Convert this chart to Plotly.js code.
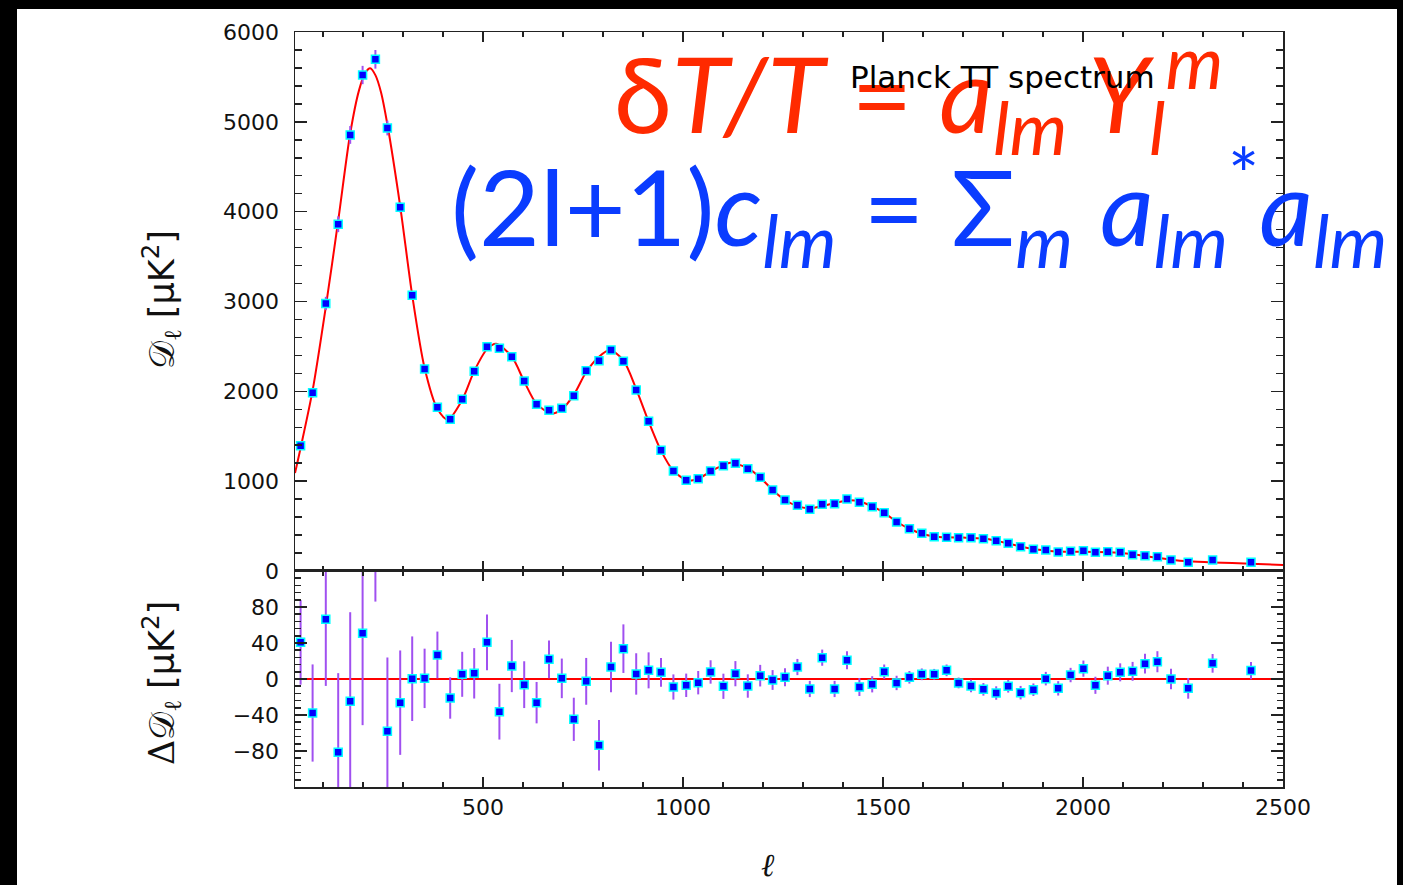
<!DOCTYPE html>
<html>
<head>
<meta charset="utf-8">
<script src="https://cdn.plot.ly/plotly-3.0.1.min.js"></script>
<style>
html,body{margin:0;padding:0;background:#000;width:1403px;height:885px;overflow:hidden;}
#plot{position:absolute;left:17px;top:9px;width:1380px;height:876px;background:#fff;}
</style>
</head>
<body>
<div id="plot"></div>
<script>
// Binned multipoles
const ell = [44,74,107,138,168,199,231,261,293,323,354,386,418,448,478,510,541,572,603,634,665,697,727,758,790,820,851,883,914,945,976,1008,1038,1069,1101,1131,1162,1193,1224,1255,1286,1317,1348,1379,1410,1441,1473,1503,1534,1566,1597,1628,1659,1689,1720,1751,1783,1813,1844,1876,1907,1938,1969,2001,2031,2062,2093,2124,2155,2186,2220,2263,2324,2420];
// D_ell values (muK^2)
const dell = [1395,1985,2978,3860,4854,5521,5696,4931,4049,3069,2249,1822,1689,1911,2223,2497,2479,2386,2115,1856,1789,1811,1951,2230,2341,2460,2334,2015,1666,1344,1114,1010,1027,1113,1172,1199,1139,1043,902,790,733,687,742,749,801,765,716,649,545,471,420,382,376,370,371,360,337,308,271,242,234,212,219,226,208,215,208,181,170,159,122,97,122,97];
// Residuals Delta D_ell (muK^2)
const resid = [40.7,-37.8,66.3,-81.5,-24.8,50.7,190,-58.1,-26.3,0.3,0.7,26.7,-21.1,5.2,6.3,40.7,-36.3,14.4,-6.3,-26.3,21.9,0.7,-44.8,-2.6,-73.7,13.3,33.7,5.6,9.6,7.4,-8.9,-7,-4.1,7.8,-8.1,5.9,-7.8,3.7,-1.1,1.9,13.3,-11.1,23.7,-11.1,20.7,-8.9,-5.9,8.1,-4.4,1.9,5.2,5.2,9.6,-4.4,-7.8,-11.5,-15.6,-8.1,-15.2,-11.9,0.4,-10.4,4.4,11.5,-7,3.7,7.4,8.5,17,19.2,0,-10.4,17.4,9.3];
// 1-sigma errors (muK^2)
const err = [47,54,74,88,99,102,104,82,58,47,33,26,23,25,28,31,31,29,26,23,21,22,24,26,28,28,27,23,20,16,14,13,13,13,14,14,13,12,11,10,9,9,9,9,10,10,9,8,8,7,6.5,6,6.5,6,7,7,7.5,7,7.5,7,7.5,8,8,9,9.5,10,10,10.5,11,11.7,11.5,11.5,10.4,9.6];
// Best-fit model curve
const modelEll = [30,44,74,107,138,168,190,205,218,231,245,261,293,323,354,386,412,448,478,510,533,572,603,634,672,697,727,758,790,817,851,883,914,945,976,1013,1038,1069,1101,1118,1162,1193,1224,1255,1286,1313,1348,1379,1418,1441,1473,1503,1534,1566,1597,1628,1659,1700,1751,1783,1813,1844,1876,1907,1938,1969,2000,2062,2093,2124,2155,2186,2220,2263,2324,2420,2500];
const modelD = [1090,1370,2010,2940,3900,4870,5350,5540,5596,5520,5330,4970,4060,3070,2260,1805,1685,1905,2225,2470,2530,2385,2110,1860,1752,1800,1960,2215,2385,2460,2345,2025,1665,1340,1115,1005,1028,1108,1178,1205,1145,1040,902,790,722,698,722,756,788,774,720,648,548,470,415,385,375,372,362,338,305,272,245,228,216,214,214,208,200,186,166,146,126,108,95,82,67];
const xRange = [30,2500];
const yTopTicks = [0,1000,2000,3000,4000,5000,6000];
const yBotTicks = [-80,-40,0,40,80];

const tickFont = {family:'DejaVu Sans', size:22, color:'#111'};
const markerStyle = {symbol:'square', size:8, color:'#0000ff', line:{color:'#00ffff', width:1.5}};
const errStyle = (a)=>({type:'data', array:a, visible:true, color:'#a050f0', thickness:2, width:0});

const traces = [
  {x:modelEll, y:modelD, type:'scatter', mode:'lines', line:{color:'#ff0000', width:2, shape:'spline', smoothing:0.8}, xaxis:'x2', yaxis:'y', hoverinfo:'skip'},
  {x:ell, y:dell, type:'scatter', mode:'markers', marker:markerStyle, error_y:errStyle(err), xaxis:'x2', yaxis:'y'},
  {x:ell, y:resid, type:'scatter', mode:'markers', marker:markerStyle, error_y:errStyle(err), xaxis:'x', yaxis:'y2'}
];

const xCommon = {range:xRange, showline:true, linecolor:'#222', linewidth:1.5, mirror:'allticks',
  ticks:'inside', ticklen:10, tickwidth:1.5, tickcolor:'#222', tick0:0, dtick:500,
  minor:{dtick:100, tick0:0, ticks:'inside', ticklen:5, tickwidth:1.5, tickcolor:'#222'},
  showgrid:false, zeroline:false, tickfont:tickFont};

const yCommon = {showline:true, linecolor:'#222', linewidth:1.5, mirror:'allticks', ticks:'inside', ticklen:12, tickwidth:1.5, tickcolor:'#222',
  showgrid:false, zeroline:false, tickfont:tickFont, ticklabelstandoff:10, tickmode:'array'};

const serif = 'font-family:DejaVu Serif';
const layout = {
  width:1380, height:876,
  margin:{l:278, r:114, t:23, b:98},
  paper_bgcolor:'#fff', plot_bgcolor:'#fff',
  showlegend:false,
  xaxis: Object.assign({}, xCommon, {anchor:'y2', domain:[0,1], showticklabels:true}),
  xaxis2: Object.assign({}, xCommon, {anchor:'y', domain:[0,1], matches:'x', showticklabels:false}),
  yaxis: Object.assign({}, yCommon, {domain:[0.2861,1], range:[0,6000], tickvals:yTopTicks, anchor:'x2',
    minor:{dtick:200, tick0:0, ticks:'inside', ticklen:7, tickwidth:1.5, tickcolor:'#222'}}),
  yaxis2: Object.assign({}, yCommon, {domain:[0,0.2861], range:[-120,120], tickvals:yBotTicks, anchor:'x',
    minor:{dtick:8, tick0:0, ticks:'inside', ticklen:6, tickwidth:1.5, tickcolor:'#222'}}),
  shapes:[
    {type:'line', xref:'x', yref:'y2', x0:30, x1:2500, y0:0, y1:0, line:{color:'#ff0000', width:2}, layer:'below'}
  ],
  annotations:[
    {xref:'paper', yref:'paper', x:-0.1356, y:0.645, xanchor:'center', yanchor:'middle', textangle:-90, showarrow:false,
     text:'<span style="'+serif+'">𝒟<sub>ℓ</sub></span> [μK<sup>2</sup>]', font:{family:'DejaVu Sans', size:35, color:'#111'}},
    {xref:'paper', yref:'paper', x:-0.1356, y:0.1377, xanchor:'center', yanchor:'middle', textangle:-90, showarrow:false,
     text:'<span style="'+serif+'">Δ𝒟<sub>ℓ</sub></span> [μK<sup>2</sup>]', font:{family:'DejaVu Sans', size:35, color:'#111'}},
    {xref:'paper', yref:'paper', x:0.4787, y:-0.1033, xanchor:'center', yanchor:'middle', showarrow:false,
     text:'<i>ℓ</i>', font:{family:'DejaVu Serif', size:32, color:'#111'}},
    {xref:'paper', yref:'paper', x:(612-295)/988, y:(787-93)/755, xanchor:'left', yanchor:'middle', showarrow:false,
     text:'δ<i>T/T</i> = <i>a<sub>lm</sub> Y<sub>l</sub><sup>m</sup></i>', font:{family:'Lato', size:105, color:'#ff2a00'}},
    {xref:'paper', yref:'paper', x:(848-295)/988, y:(787-77)/755, xanchor:'left', yanchor:'middle', showarrow:false,
     text:'Planck TT spectrum', font:{family:'DejaVu Sans', size:31, color:'#000'}},
    {xref:'paper', yref:'paper', x:(449-295)/988, y:(787-207)/755, xanchor:'left', yanchor:'middle', showarrow:false,
     text:'(2l+1)<i>c<sub>lm</sub></i> = Σ<sub><i>m</i></sub> <i>a<sub>lm</sub></i><sup>*</sup><i>a<sub>lm</sub></i>', font:{family:'Lato', size:105, color:'#0a3cff'}}
  ]
};

Plotly.newPlot('plot', traces, layout, {displayModeBar:false, staticPlot:true});
</script>
</body>
</html>
